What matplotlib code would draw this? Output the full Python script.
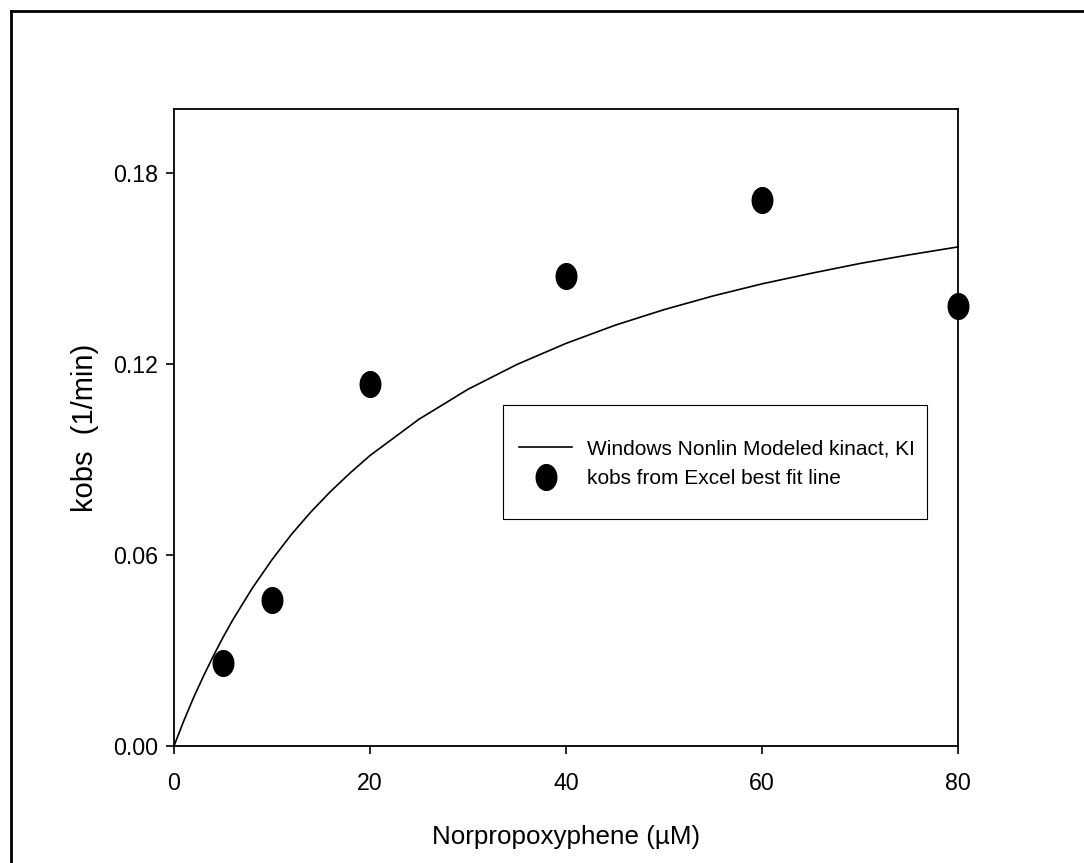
import matplotlib
matplotlib.use("Agg")
import matplotlib.pyplot as plt
from matplotlib.path import Path
from matplotlib.lines import Line2D
from matplotlib.patches import Rectangle
import numpy as np

# Data
conc_points = [5, 10, 20, 40, 60, 80]
kobs_points = [0.026, 0.0458, 0.1136, 0.1475, 0.1713, 0.138]

curve_x = [0, 1, 2, 3, 4, 5, 6, 8, 10, 12, 14, 16, 18, 20, 25, 30, 35, 40,
           45, 50, 55, 60, 65, 70, 75, 80]
curve_y = [0.0, 0.0079, 0.0152, 0.0219, 0.0282, 0.0341, 0.0396, 0.0496,
           0.0585, 0.0665, 0.0736, 0.0800, 0.0858, 0.0912, 0.1026, 0.1120,
           0.1198, 0.1264, 0.1321, 0.1370, 0.1413, 0.1451, 0.1484, 0.1515,
           0.1542, 0.1567]

x_ticks = [0, 20, 40, 60, 80]
y_ticks = [0.00, 0.06, 0.12, 0.18]
y_tick_labels = ["0.00", "0.06", "0.12", "0.18"]

line_label = "Windows Nonlin Modeled kinact, KI"
point_label = "kobs from Excel best fit line"
x_label = "Norpropoxyphene (\u00b5M)"
y_label = "kobs  (1/min)"

plt.rcParams['font.family'] = ['Liberation Sans', 'DejaVu Sans']

W, H = 1084, 863
fig = plt.figure(figsize=(W / 100, H / 100), dpi=100)
fig.patch.set_facecolor("white")

AX_L, AX_B, AX_W, AX_H = 174, 117, 784, 637
ax = fig.add_axes([AX_L / W, AX_B / H, AX_W / W, AX_H / H])


def ax_x(px):
    return (px - AX_L) / AX_W


def ax_y(py):
    return ((H - py) - AX_B) / AX_H


# slightly tall ellipse marker
t = np.linspace(0, 2 * np.pi, 60)
ell = Path(np.column_stack([0.40 * np.cos(t), 0.5 * np.sin(t)]), closed=True)

ax.plot(curve_x, curve_y, color="black", lw=1.2, label=line_label, clip_on=False)
ax.plot(conc_points, kobs_points, linestyle="none", marker=ell, markersize=18.5,
        color="black", label=point_label, clip_on=False, zorder=5)

ax.set_xlim(0, 80)
ax.set_ylim(0, 0.20)
ax.set_xticks(x_ticks)
ax.set_yticks(y_ticks)
ax.set_yticklabels(y_tick_labels)
for s in ax.spines.values():
    s.set_linewidth(1.3)
ax.tick_params(direction="out", length=5.5, width=1.2, labelsize=16.7,
               colors="black")
ax.tick_params(axis="x", pad=13)
ax.tick_params(axis="y", pad=6)

ax.set_xlabel(x_label, fontsize=18.7)
ax.xaxis.set_label_coords(0.5, ax_y(825))
ax.set_ylabel(y_label, fontsize=21)
ax.yaxis.set_label_coords(ax_x(99), ax_y(428))

# legend frame
ax.add_patch(Rectangle((ax_x(502.7), ax_y(519)), ax_x(926.7) - ax_x(502.7),
                       ax_y(405) - ax_y(519), transform=ax.transAxes,
                       fill=True, facecolor="white", edgecolor="black",
                       lw=0.8, clip_on=False, zorder=6))
leg = ax.legend(loc="center left", bbox_to_anchor=(ax_x(519), ax_y(464)),
                frameon=False, fontsize=15, handlelength=2.55,
                handletextpad=0.72, borderpad=0, labelspacing=0.5,
                borderaxespad=0)
leg.set_zorder(7)

# figure border (left and top edges visible)
fig.add_artist(Line2D([10.5 / W, 10.5 / W], [0, 1 - 11 / H], color="black", lw=2,
                      transform=fig.transFigure))
fig.add_artist(Line2D([10.5 / W, 1], [1 - 11 / H, 1 - 11 / H], color="black", lw=2,
                      transform=fig.transFigure))

fig.savefig("out.png", dpi=100)
